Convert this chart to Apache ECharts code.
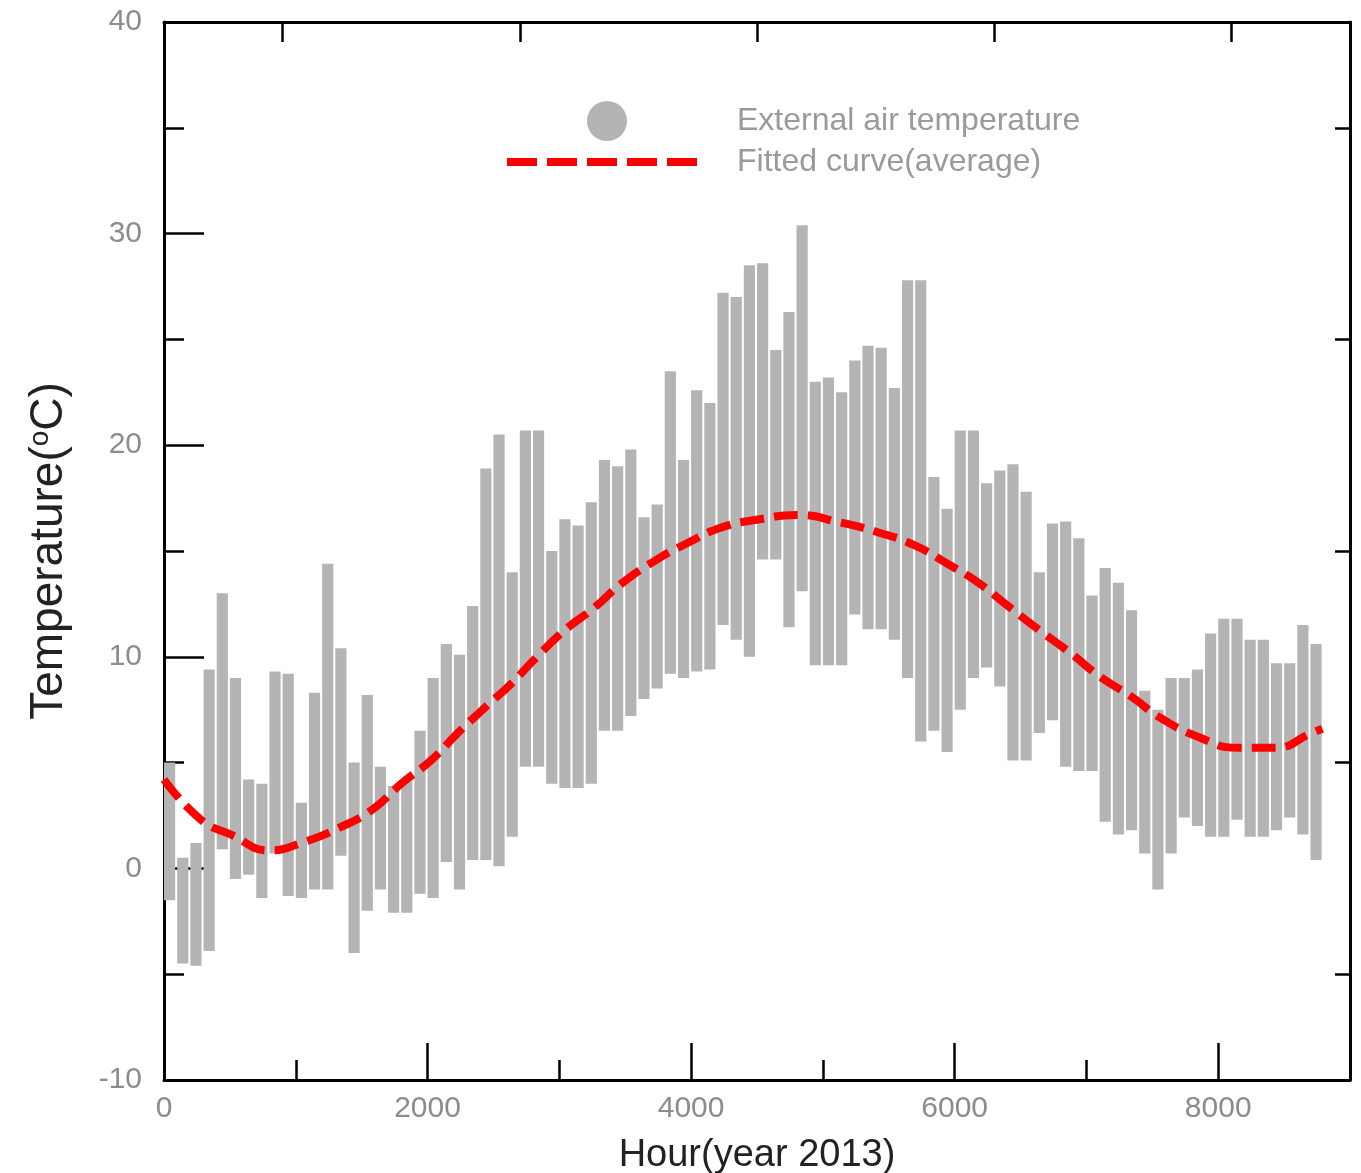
<!DOCTYPE html>
<html>
<head>
<meta charset="utf-8">
<title>External air temperature 2013</title>
<script src="https://cdn.jsdelivr.net/npm/echarts@6/dist/echarts.min.js"></script>
<style>
  html, body { margin: 0; padding: 0; background: #fff; }
  #chart { width: 1361px; height: 1173px; }
</style>
</head>
<body>
<div id="chart"></div>
<script>
const binStart = [
  0, 100, 200, 300, 400, 500, 600, 700, 800, 900,
  1000, 1100, 1200, 1300, 1400, 1500, 1600, 1700, 1800, 1900,
  2000, 2100, 2200, 2300, 2400, 2500, 2600, 2700, 2800, 2900,
  3000, 3100, 3200, 3300, 3400, 3500, 3600, 3700, 3800, 3900,
  4000, 4100, 4200, 4300, 4400, 4500, 4600, 4700, 4800, 4900,
  5000, 5100, 5200, 5300, 5400, 5500, 5600, 5700, 5800, 5900,
  6000, 6100, 6200, 6300, 6400, 6500, 6600, 6700, 6800, 6900,
  7000, 7100, 7200, 7300, 7400, 7500, 7600, 7700, 7800, 7900,
  8000, 8100, 8200, 8300, 8400, 8500, 8600, 8700
]
const tempLow = [
  -1.5, -4.5, -4.6, -3.9, 0.9, -0.5, -0.3, -1.4, 0.7, -1.3,
  -1.4, -1.0, -1.0, 0.6, -4.0, -2.0, -1.0, -2.1, -2.1, -1.2,
  -1.4, 0.3, -1.0, 0.4, 0.4, 0.1, 1.5, 4.8, 4.8, 4.0,
  3.8, 3.8, 4.0, 6.5, 6.5, 7.2, 8.0, 8.5, 9.2, 9.0,
  9.3, 9.4, 11.5, 10.8, 10.0, 14.6, 14.6, 11.4, 13.1, 9.6,
  9.6, 9.6, 12.0, 11.3, 11.3, 10.8, 9.0, 6.0, 6.5, 5.5,
  7.5, 9.0, 9.5, 8.6, 5.1, 5.1, 6.4, 7.0, 4.8, 4.6,
  4.6, 2.2, 1.6, 1.8, 0.7, -1.0, 0.7, 2.4, 2.0, 1.5,
  1.5, 2.3, 1.5, 1.5, 1.8, 2.4, 1.6, 0.4
]
const tempHigh = [
  5.0, 0.5, 1.2, 9.4, 13.0, 9.0, 4.2, 4.0, 9.3, 9.2,
  3.1, 8.3, 14.4, 10.4, 5.0, 8.2, 4.8, 3.9, 4.2, 6.5,
  9.0, 10.6, 10.1, 12.4, 18.9, 20.5, 14.0, 20.7, 20.7, 15.0,
  16.5, 16.2, 17.3, 19.3, 19.0, 19.8, 16.6, 17.2, 23.5, 19.3,
  22.6, 22.0, 27.2, 27.0, 28.5, 28.6, 24.5, 26.3, 30.4, 23.0,
  23.2, 22.5, 24.0, 24.7, 24.6, 22.7, 27.8, 27.8, 18.5, 17.0,
  20.7, 20.7, 18.2, 18.8, 19.1, 17.8, 14.0, 16.3, 16.4, 15.6,
  12.9, 14.2, 13.5, 12.2, 8.4, 7.5, 9.0, 9.0, 9.4, 11.1,
  11.8, 11.8, 10.8, 10.8, 9.7, 9.7, 11.5, 10.6
]
const binWidth = 100

// fitted average curve
const fitHour = [
  0, 280, 508, 800, 1040, 1340, 1585, 1800, 2025, 2230,
  2435, 2630, 2830, 3030, 3260, 3480, 3715, 3980, 4225, 4520,
  4805, 5130, 5410, 5685, 5945, 6180, 6405, 6655, 6875, 7095,
  7345, 7565, 7855, 8140, 8430, 8710, 8790
]
const fitTemp = [
  4.2, 2.3, 1.6, 0.85, 1.2, 1.95, 2.8, 4.0, 5.1, 6.4,
  7.6, 8.7, 10.0, 11.2, 12.3, 13.5, 14.5, 15.4, 16.1, 16.5,
  16.7, 16.35, 15.9, 15.3, 14.4, 13.5, 12.4, 11.2, 10.2, 9.1,
  8.1, 7.1, 6.2, 5.7, 5.7, 6.4, 6.6
]

const xTicks = [0, 2000, 4000, 6000, 8000]
const topTicks = ['t1', 't2', 't3', 't4', 't5']

const labelFont = 'Liberation Sans, Arial, sans-serif'
const tickColor = '#8c8c8c'

const rangeData = binStart.map((h, i) => [h, h + binWidth, tempLow[i], tempHigh[i]])
const fitData = fitHour.map((h, i) => [h, fitTemp[i]])

const chart = echarts.init(document.getElementById('chart'))

const option = {
    animation: false,
    backgroundColor: '#fff',
    grid: {
        left: 164,
        top: 22,
        width: 1186,
        height: 1058,
        outerBoundsMode: 'none'
    },
    legend: [
        {
            data: [{ name: 'External air temperature', icon: 'circle' }],
            left: 587,
            top: 101,
            padding: 0,
            itemWidth: 40,
            itemHeight: 40,
            selectedMode: false,
            textStyle: { color: '#9a9a9a', fontSize: 32, fontFamily: labelFont, padding: [0, 0, 0, 105] }
        },
        {
            data: [{
                name: 'Fitted curve(average)',
                icon: 'path://M0,0h30v8h-30z M40,0h30v8h-30z M80,0h30v8h-30z M120,0h30v8h-30z M160,0h30v8h-30z'
            }],
            left: 507,
            top: 146,
            padding: 0,
            itemWidth: 190,
            itemHeight: 40,
            selectedMode: false,
            textStyle: { color: '#9a9a9a', fontSize: 32, fontFamily: labelFont, padding: [0, 0, 0, 35] }
        }
    ],
    xAxis: [
        {
            type: 'value',
            position: 'bottom',
            min: 0,
            max: 9000,
            interval: 1000,
            splitLine: { show: false },
            axisLine: { show: true, onZero: false, lineStyle: { color: '#000', width: 3 } },
            axisTick: { show: true, inside: true, length: 20, lineStyle: { color: '#000', width: 2.5 } },
            axisLabel: {
                margin: 14,
                color: tickColor,
                fontSize: 30,
                fontFamily: labelFont,
                formatter: function (v) {
                    return xTicks.indexOf(v) > -1 ? String(v) : ''
                }
            },
            name: 'Hour(year 2013)',
            nameLocation: 'middle',
            nameGap: 57,
            nameTextStyle: { color: '#222', fontSize: 38, fontFamily: labelFont }
        },
        {
            // longer ticks every 2000 h
            type: 'value',
            position: 'bottom',
            min: 0,
            max: 9000,
            interval: 2000,
            splitLine: { show: false },
            axisLine: { show: false, onZero: false },
            axisTick: { show: true, inside: true, length: 37, lineStyle: { color: '#000', width: 2.5 } },
            axisLabel: { show: false }
        },
        {
            type: 'category',
            position: 'top',
            data: topTicks,
            boundaryGap: true,
            axisLine: { show: true, onZero: false, lineStyle: { color: '#000', width: 3 } },
            axisTick: { show: true, inside: true, alignWithLabel: true, length: 20, lineStyle: { color: '#000', width: 2.5 } },
            axisLabel: { show: false },
            splitLine: { show: false }
        }
    ],
    yAxis: [
        {
            type: 'value',
            position: 'left',
            min: -10,
            max: 40,
            interval: 10,
            splitLine: { show: false },
            axisLine: { show: true, onZero: false, lineStyle: { color: '#000', width: 3 } },
            axisTick: { show: true, inside: true, length: 40, lineStyle: { color: '#000', width: 2.5 } },
            minorTick: { show: true, splitNumber: 2, length: 20, lineStyle: { color: '#000', width: 2.5 } },
            axisLabel: { margin: 22, color: tickColor, fontSize: 30, fontFamily: labelFont },
            name: 'Temperature({sup|o}C)',
            nameLocation: 'middle',
            nameRotate: 90,
            nameGap: 92,
            nameTextStyle: {
                color: '#222',
                fontSize: 46,
                fontFamily: labelFont,
                rich: {
                    sup: { fontSize: 28, color: '#222', fontFamily: labelFont, verticalAlign: 'top', lineHeight: 46 }
                }
            }
        },
        {
            type: 'value',
            position: 'right',
            min: -10,
            max: 40,
            interval: 10,
            splitLine: { show: false },
            axisLine: { show: true, onZero: false, lineStyle: { color: '#000', width: 3 } },
            axisTick: { show: false, inside: true },
            minorTick: { show: true, splitNumber: 2, length: 15, lineStyle: { color: '#000', width: 2.5 } },
            axisLabel: { show: false }
        }
    ],
    series: [
        {
            name: 'External air temperature',
            type: 'custom',
            xAxisIndex: 0,
            yAxisIndex: 0,
            itemStyle: { color: '#b4b4b4' },
            encode: { x: [0, 1], y: [2, 3] },
            data: rangeData,
            renderItem: function (params, api) {
                const p1 = api.coord([api.value(0), api.value(3)])
                const p2 = api.coord([api.value(1), api.value(2)])
                return {
                    type: 'rect',
                    shape: { x: p1[0], y: p1[1], width: p2[0] - p1[0] - 2, height: p2[1] - p1[1] },
                    style: api.style()
                }
            }
        },
        {
            name: 'Fitted curve(average)',
            type: 'line',
            xAxisIndex: 0,
            yAxisIndex: 0,
            smooth: true,
            symbol: 'none',
            z: 5,
            itemStyle: { color: '#ff0000' },
            lineStyle: { color: '#ff0000', width: 8, type: [24, 10], cap: 'butt' },
            data: fitData
        }
    ]
}

chart.setOption(option)
</script>
</body>
</html>
